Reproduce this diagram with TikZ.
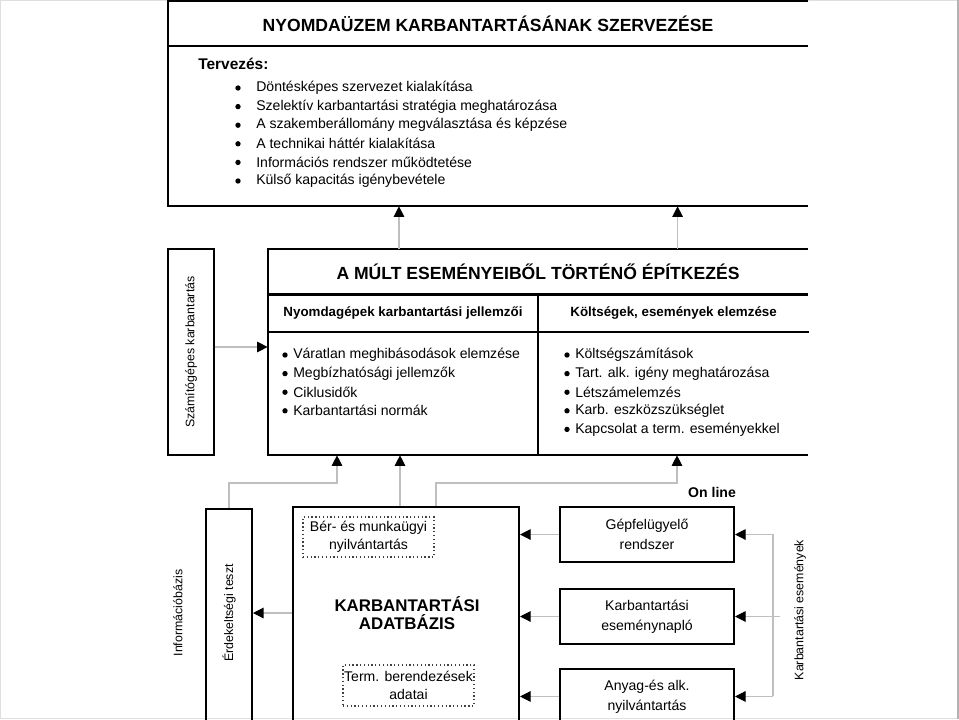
\documentclass[tikz,border=0pt]{standalone}
\usepackage{fontspec}
\setmainfont{Liberation Sans}
\usetikzlibrary{arrows.meta,positioning,calc}

\begin{document}
\begin{tikzpicture}[
  x=0.025cm, y=-0.025cm,
  font=\fontsize{10}{13}\selectfont,
  >={Triangle[length=7.5pt, width=7.5pt, color=black]},
  frame/.style={line width=1.4pt},
  box/.style={draw, line width=1.4pt, inner sep=0pt, align=center},
  dotbox/.style={draw=black!75, dash pattern=on 0.9pt off 1.8pt, line width=0.9pt, inner sep=0pt, align=center, font=\fontsize{10}{12.8}\selectfont},
  conn/.style={->, gray!50, line width=0.8pt},
  big/.style={font=\fontsize{12.5}{13.5}\selectfont\bfseries, inner sep=0pt, align=center},
  head/.style={font=\fontsize{9.5}{12}\selectfont\bfseries, inner sep=0pt},
  item/.style={anchor=west, inner sep=0pt},
  dot/.style={circle, fill, inner sep=0pt, minimum size=3.8pt},
  vert/.style={rotate=90, inner sep=0pt, font=\fontsize{8.8}{10}\selectfont},
  unit/.style={box, minimum width=4.35cm, minimum height=1.375cm, font=\fontsize{10}{14}\selectfont}
]
\useasboundingbox (0,0) rectangle (959,719);
\clip (0,0) rectangle (959,719);
\draw[gray!25] (0.5,0.5) rectangle (958.5,718.5);
\draw[gray!60, line width=0.8pt] (958,0) -- (958,719);

% felso doboz: tervezes
\node[minimum width=16cm, minimum height=5.125cm, inner sep=0pt] (topbox) at (488,103.5) {};
\node[big, minimum width=16cm, minimum height=1.125cm, anchor=north] (ttl) at (topbox.north) {NYOMDAÜZEM KARBANTARTÁSÁNAK SZERVEZÉSE};
\draw[frame] (topbox.north east) -- (topbox.north west) -- (topbox.south west) -- (topbox.south east);
\draw[frame] (ttl.south west) -- (ttl.south east);
\node[item, font=\fontsize{11}{13}\selectfont\bfseries] (terv) at (198,64) {Tervezés:};
\foreach \t [count=\i] in {Döntésképes szervezet kialakítása, Szelektív karbantartási stratégia meghatározása,
  A szakemberállomány megválasztása és képzése, A technikai háttér kialakítása,
  Információs rendszer működtetése, Külső kapacitás igénybevétele}{
  \node[dot] (pd\i) at (238, 69.4+18.6*\i) {};
  \node[item] (p\i) at (256, 69.4+18.6*\i) {\t};
}

% kozepso doboz
\node[minimum width=13.5cm, minimum height=5.15cm, inner sep=0pt] (midbox) at (538,352) {};
\node[big, minimum width=13.5cm, minimum height=1.125cm, anchor=north] (ttl2) at (midbox.north) {A MÚLT ESEMÉNYEIBŐL TÖRTÉNŐ ÉPÍTKEZÉS};
\node[head, minimum width=6.75cm, minimum height=0.925cm, anchor=north west] (hdl) at (ttl2.south west) {Nyomdagépek karbantartási jellemzői};
\node[head, minimum width=6.75cm, minimum height=0.925cm, anchor=north west] (hdr) at (hdl.north east) {Költségek, események elemzése};
\draw[frame] (midbox.north east) -- (midbox.north west) -- (midbox.south west) -- (midbox.south east);
\draw[line width=2pt] (ttl2.south west) -- (ttl2.south east);
\draw[frame] (hdl.south west) -- (hdr.south east);
\draw[frame] (hdl.north east) -- (hdl.north east |- midbox.south);
\foreach \t [count=\i] in {Váratlan meghibásodások elemzése, Megbízhatósági jellemzők, Ciklusidők, Karbantartási normák}{
  \node[dot] (ld\i) at (285, 336.4+18.6*\i) {};
  \node[item] (l\i) at (293, 336.4+18.6*\i) {\t};
}
\foreach \t [count=\i] in {Költségszámítások, Tart. alk. igény meghatározása, Létszámelemzés,
  Karb. eszközszükséglet, Kapcsolat a term. eseményekkel}{
  \node[dot] (rd\i) at (567, 336.4+18.6*\i) {};
  \node[item] (r\i) at (575, 336.4+18.6*\i) {\t};
}

\node[box, minimum width=1.15cm, minimum height=5.15cm] (szbox) at (191,352) {};
\node[vert] (szt) at (szbox.center) {Számítógépes karbantartás};
\draw[conn] ([yshift=0.125cm]szbox.east) -- ([yshift=0.125cm]szbox.east -| midbox.west);

\draw[conn] ($(hdl.north |- midbox.north)+(-4,0)$) -- ($(hdl.north |- topbox.south)+(-4,0)$);
\draw[conn] ($(hdr.north |- midbox.north)+(4,0)$) -- ($(hdr.north |- topbox.south)+(4,0)$);

% also resz: informaciobazis
\node[vert] (infb) at (178,613) {Információbázis};
\node[box, minimum width=1.15cm, minimum height=6.275cm] (erbox) at (229,634.5) {};
\node[vert] (ert) at (229,613) {Érdekeltségi teszt};

\node[box, minimum width=5.65cm, minimum height=6.325cm] (dbbox) at (406,633.5) {};
\node[big, font=\fontsize{12}{13}\selectfont\bfseries] (dbt) at (407,613) {KARBANTARTÁSI\\ADATBÁZIS};
\node[dotbox, minimum width=3.275cm, minimum height=1cm] (ber) at (368.5,537) {Bér- és munkaügyi\\nyilvántartás};
\node[dotbox, minimum width=3.275cm, minimum height=1.025cm] (term) at (408.5,685.5) {Term. berendezések\\adatai};

\node[unit] (gep) at (647,534.5) {Gépfelügyelő\\rendszer};
\node[unit, below=0.625cm of gep] (napl) {Karbantartási\\eseménynapló};
\node[unit, below=0.575cm of napl] (anyag) {Anyag-és alk.\\nyilvántartás};
\node[font=\fontsize{10}{12}\selectfont\bfseries] (onl) at (712,492) {On line};
\node[vert] (kesem) at (800,610) {Karbantartási események};

\draw[conn] (dbbox.west |- dbt) -- (erbox.east |- dbt);
\foreach \b in {gep,napl,anyag}
  \draw[conn] (\b.west) -- (\b.west -| dbbox.east);

\coordinate (kbus) at (773,0);
\draw[conn] (kbus |- anyag.east) |- (gep.east);
\draw[conn] (kbus |- anyag.east) -- (anyag.east);
\draw[conn] ($(kbus |- napl.east)+(7,0)$) -- (napl.east);

\coordinate (e1) at (337,483);
\draw[conn] (erbox.north) |- (e1) -- (e1 |- midbox.south);
\coordinate (d1) at ($(dbbox.north)+(-6,0)$);
\draw[conn] (d1) -- (d1 |- midbox.south);
\coordinate (d2) at ($(dbbox.north)+(30,0)$);
\coordinate (e2) at (677,483);
\draw[conn] (d2) |- (e2) -- (e2 |- midbox.south);

\end{tikzpicture}
\end{document}
